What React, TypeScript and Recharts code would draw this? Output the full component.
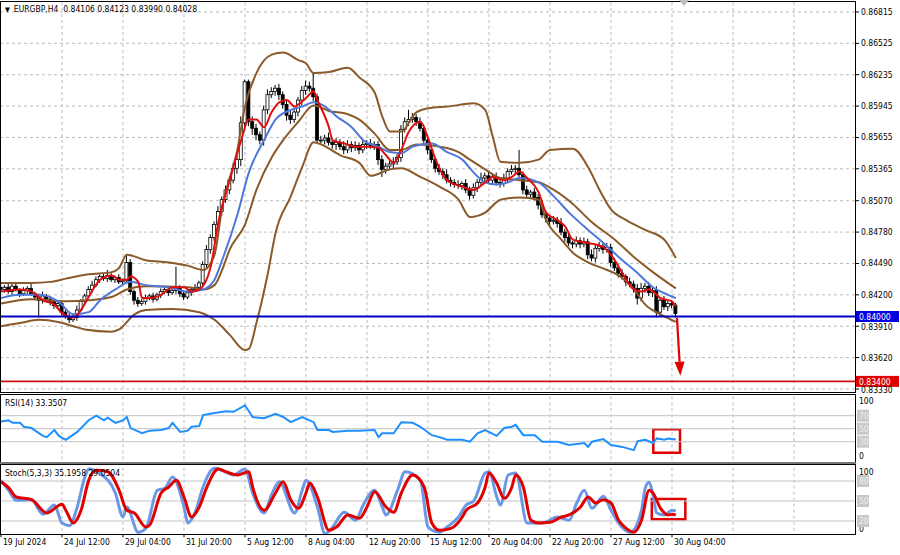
import React from "react";
import {
  Bar,
  CartesianGrid,
  ComposedChart,
  Line,
  ReferenceArea,
  ReferenceLine,
  XAxis,
  YAxis,
} from "recharts";

const FONT = "'DejaVu Sans Condensed', 'Liberation Sans', Arial, sans-serif";

// H4 closes, one per bar, 19 Jul 20:00 .. 30 Aug 08:00
const closes = [
  0.8425, 0.8427, 0.8423, 0.8428, 0.8425, 0.8421, 0.8424, 0.8426, 0.8421, 0.8418, 0.8415, 0.8419, 0.8416, 0.8414, 0.841, 0.8412,
  0.8404, 0.84, 0.8397, 0.8399, 0.8406, 0.8414, 0.8419, 0.8425, 0.8429, 0.8434, 0.8437, 0.8435, 0.8438, 0.8434, 0.8436, 0.8432,
  0.8433, 0.845, 0.8423, 0.8415, 0.8412, 0.8414, 0.8417, 0.8419, 0.8416, 0.842, 0.8423, 0.8425, 0.8422, 0.8424, 0.8426, 0.8421,
  0.8418, 0.8422, 0.8425, 0.8427, 0.8431, 0.8448, 0.8462, 0.8473, 0.8485, 0.8497, 0.8508, 0.8517, 0.8526, 0.8537, 0.8545, 0.8579,
  0.8617, 0.858, 0.8574, 0.8568, 0.8563, 0.8591, 0.8605, 0.8608, 0.8611, 0.8605, 0.8596, 0.8586, 0.8582, 0.8589, 0.86, 0.8609,
  0.8613, 0.8611, 0.8603, 0.8563, 0.8563, 0.8565, 0.8561, 0.8559, 0.8561, 0.8557, 0.8554, 0.8559, 0.8556, 0.8558, 0.8554, 0.8559,
  0.856, 0.8558, 0.8559, 0.8545, 0.8536, 0.8539, 0.8541, 0.8543, 0.8547, 0.8573, 0.858, 0.8582, 0.8584, 0.858, 0.8574, 0.8563,
  0.8554, 0.8545, 0.8537, 0.8534, 0.8531, 0.8526, 0.8524, 0.8522, 0.8521, 0.8523, 0.8517, 0.8512, 0.8519, 0.8524, 0.8528, 0.853,
  0.8526, 0.8529, 0.8524, 0.8523, 0.8528, 0.8534, 0.8536, 0.8537, 0.8531, 0.8517, 0.8513, 0.8515, 0.851, 0.8503, 0.8494, 0.8491,
  0.8488, 0.8489, 0.8486, 0.8478, 0.8473, 0.8468, 0.8467, 0.847, 0.8467, 0.8469, 0.8457, 0.8454, 0.8463, 0.8465, 0.8462, 0.8464,
  0.845, 0.8445, 0.844, 0.8437, 0.8432, 0.843, 0.8426, 0.8417, 0.8426, 0.8428, 0.8422, 0.8424, 0.8404, 0.8415, 0.8409, 0.8412,
  0.84106, 0.84028,
];
const firstOpen = 0.8427;

// wick lengths in pips above / below the body
const wickUp = [
  3, 2, 4, 2, 3, 1, 3, 2, 4, 2, 3, 4, 2, 3, 2, 3,
  3, 2, 3, 3, 4, 2, 2, 3, 4, 3, 2, 3, 5, 3, 2, 3,
  2, 6, 3, 2, 3, 2, 3, 2, 3, 2, 3, 2, 3, 2, 20, 3,
  2, 3, 2, 3, 2, 3, 4, 3, 3, 5, 3, 4, 3, 5, 4, 6,
  2, 2, 5, 4, 3, 4, 5, 4, 3, 4, 3, 4, 5, 4, 3, 4,
  5, 4, 14, 3, 4, 3, 5, 3, 4, 3, 5, 4, 3, 4, 3, 4,
  3, 4, 3, 3, 4, 3, 3, 4, 3, 4, 4, 9, 4, 3, 4, 3,
  3, 4, 2, 4, 3, 5, 3, 3, 4, 2, 4, 3, 4, 3, 5, 3,
  4, 3, 4, 2, 4, 3, 4, 3, 17, 3, 4, 2, 4, 3, 5, 3,
  3, 4, 3, 5, 3, 4, 2, 4, 3, 4, 3, 5, 3, 4, 3, 4,
  3, 4, 3, 4, 2, 4, 3, 4, 5, 3, 4, 3, 4, 3, 4, 3,
  3, 2,
];
const wickDn = [
  2, 3, 2, 3, 2, 3, 2, 3, 2, 3, 16, 3, 2, 4, 3, 2,
  3, 2, 3, 2, 3, 2, 3, 2, 3, 2, 3, 2, 3, 2, 3, 2,
  3, 2, 3, 4, 3, 2, 3, 2, 3, 2, 3, 2, 3, 2, 3, 3,
  3, 2, 3, 2, 3, 4, 3, 4, 3, 3, 4, 3, 4, 3, 5, 6,
  5, 4, 6, 5, 4, 5, 4, 3, 4, 5, 4, 5, 4, 3, 4, 5,
  4, 3, 4, 2, 3, 4, 3, 4, 5, 3, 4, 3, 4, 3, 4, 3,
  4, 3, 4, 5, 7, 4, 3, 4, 3, 4, 3, 4, 3, 4, 3, 4,
  4, 3, 4, 3, 4, 3, 4, 3, 3, 4, 3, 4, 3, 4, 3, 4,
  3, 4, 3, 4, 3, 4, 3, 4, 3, 4, 3, 4, 3, 4, 3, 4,
  4, 3, 4, 3, 4, 3, 4, 3, 4, 3, 4, 3, 4, 3, 4, 3,
  4, 3, 4, 3, 4, 3, 4, 6, 3, 4, 3, 4, 5, 4, 3, 4,
  3, 4,
];

const priceTicks = [0.86815, 0.86525, 0.86235, 0.85945, 0.85655, 0.85365, 0.8507, 0.8478, 0.8449, 0.842, 0.8391, 0.8362, 0.8333];
const gridBars = [16, 32, 48, 64, 80, 96, 112, 128, 144, 160, 176, 192, 208];
const dateTicks = [0, 16, 32, 48, 64, 80, 96, 112, 128, 144, 160, 176];
const dateLabels = [
  "19 Jul 2024", "24 Jul 12:00", "29 Jul 04:00", "31 Jul 20:00", "5 Aug 12:00", "8 Aug 04:00",
  "12 Aug 20:00", "15 Aug 12:00", "20 Aug 04:00", "22 Aug 20:00", "27 Aug 12:00", "30 Aug 04:00",
];

// indicator readings: [bar index, value]
const bbUpper = [
  [0, 0.8431], [8, 0.8431], [13, 0.8432], [17, 0.8435], [23, 0.8439], [29, 0.8441], [31, 0.8445], [33, 0.8457],
  [38, 0.8452], [44, 0.845], [49, 0.8447], [53, 0.8443], [56, 0.8457], [58, 0.8501], [62, 0.8554], [64, 0.8594],
  [67, 0.8625], [71, 0.8642], [74, 0.8644], [78, 0.8637], [80, 0.8634], [82, 0.8625], [86, 0.8626], [91, 0.863],
  [94, 0.8621], [98, 0.8607], [100, 0.8585], [102, 0.8571], [105, 0.8571], [109, 0.8589], [113, 0.8593], [117, 0.8594],
  [124, 0.8597], [127, 0.8591], [129, 0.8566], [131, 0.8543], [136, 0.8542], [141, 0.8545], [144, 0.8554], [150, 0.8555],
  [154, 0.8538], [157, 0.8517], [160, 0.8499], [164, 0.8489], [169, 0.848], [174, 0.8471], [177, 0.8454],
];
const bbMiddle = [
  [0, 0.8412], [8, 0.8416], [17, 0.8414], [23, 0.8415], [29, 0.8418], [33, 0.8425], [38, 0.8428], [49, 0.8427],
  [53, 0.8425], [56, 0.8429], [58, 0.8443], [60, 0.8462], [64, 0.8485], [67, 0.8517], [71, 0.8547], [74, 0.8563],
  [78, 0.858], [82, 0.8595], [86, 0.859], [91, 0.8587], [94, 0.8582], [98, 0.8569], [102, 0.8554], [105, 0.8554],
  [109, 0.8559], [115, 0.8557], [120, 0.8552], [123, 0.8545], [127, 0.8536], [131, 0.8528], [136, 0.8526], [141, 0.8524],
  [145, 0.8517], [150, 0.8504], [155, 0.8487], [161, 0.8471], [166, 0.8455], [171, 0.8441], [177, 0.8426],
];
const bbLower = [
  [0, 0.8391], [5, 0.8394], [10, 0.8397], [15, 0.8395], [19, 0.8391], [22, 0.8388], [29, 0.8386], [31, 0.8388],
  [35, 0.8402], [38, 0.8406], [45, 0.8407], [52, 0.8404], [56, 0.8397], [60, 0.8383], [64, 0.8369], [65, 0.837],
  [67, 0.8394], [70, 0.844], [72, 0.8477], [76, 0.8511], [79, 0.8538], [82, 0.8561], [84, 0.8559], [89, 0.8549],
  [94, 0.8542], [97, 0.853], [102, 0.8536], [105, 0.8537], [110, 0.8529], [115, 0.852], [120, 0.8508], [123, 0.8492],
  [127, 0.8496], [131, 0.8508], [136, 0.851], [141, 0.8508], [143, 0.8489], [147, 0.8471], [150, 0.8459], [154, 0.845],
  [159, 0.8443], [162, 0.8438], [166, 0.8425], [169, 0.8411], [173, 0.8402], [177, 0.8395],
];
const maSlow = [
  [0, 0.8417], [5, 0.842], [10, 0.842], [15, 0.8414], [19, 0.8402], [23, 0.8404], [26, 0.8415], [30, 0.8425],
  [34, 0.8432], [38, 0.8429], [44, 0.8427], [49, 0.8423], [53, 0.8425], [56, 0.8434], [58, 0.8452], [62, 0.8494],
  [65, 0.8533], [69, 0.8563], [72, 0.8582], [76, 0.8591], [79, 0.8594], [82, 0.8598], [85, 0.8594], [88, 0.8585],
  [92, 0.8575], [95, 0.8563], [99, 0.8557], [102, 0.8552], [105, 0.8551], [108, 0.8557], [113, 0.856], [117, 0.8552],
  [121, 0.8545], [124, 0.8533], [127, 0.8524], [130, 0.8522], [133, 0.8524], [136, 0.8528], [141, 0.8524], [145, 0.8511],
  [149, 0.8496], [154, 0.848], [158, 0.8468], [162, 0.8455], [167, 0.844], [171, 0.8427], [175, 0.842], [177, 0.8417],
];
const maFast = [
  [0, 0.8423], [5, 0.8425], [8, 0.8423], [11, 0.8415], [14, 0.8411], [16, 0.8403], [19, 0.8399], [21, 0.8406],
  [23, 0.8418], [26, 0.8434], [29, 0.8438], [31, 0.8434], [33, 0.8434], [34, 0.8437], [36, 0.8432], [37, 0.8417],
  [39, 0.8417], [42, 0.842], [45, 0.8427], [48, 0.8427], [50, 0.8423], [52, 0.8425], [55, 0.8446], [57, 0.8487],
  [60, 0.8526], [63, 0.8563], [65, 0.8582], [67, 0.8582], [69, 0.8575], [71, 0.8589], [73, 0.8598], [75, 0.86],
  [77, 0.8594], [78, 0.8596], [80, 0.8602], [82, 0.8608], [83, 0.86], [86, 0.8575], [87, 0.8563], [90, 0.856],
  [93, 0.8557], [96, 0.8557], [99, 0.8556], [101, 0.8549], [103, 0.8542], [105, 0.8554], [107, 0.8571], [110, 0.858],
  [112, 0.8565], [114, 0.8545], [117, 0.8526], [121, 0.852], [124, 0.8517], [127, 0.8524], [129, 0.8529], [132, 0.8526],
  [134, 0.8529], [136, 0.8534], [138, 0.8528], [141, 0.8515], [143, 0.8496], [146, 0.8489], [148, 0.8483], [150, 0.8471],
  [154, 0.8468], [158, 0.8464], [161, 0.8452], [163, 0.844], [166, 0.8425], [168, 0.8423], [170, 0.8425], [173, 0.8417],
  [176, 0.8414], [177, 0.8409],
];
const rsi = [
  [0, 61], [2, 63], [3, 59], [5, 59], [6, 53], [8, 51], [11, 39], [12, 37], [14, 48], [15, 40], [16, 36], [17, 33],
  [20, 45], [23, 63], [25, 70], [27, 63], [28, 67], [30, 59], [32, 63], [33, 68], [34, 51], [37, 43], [39, 47], [42, 48],
  [44, 51], [45, 59], [47, 45], [49, 47], [50, 53], [52, 54], [53, 71], [56, 74], [59, 77], [61, 76], [64, 86], [66, 68],
  [69, 66], [72, 73], [74, 68], [76, 60], [79, 68], [82, 60], [83, 48], [86, 48], [87, 45], [91, 47], [94, 47], [98, 48],
  [99, 37], [100, 43], [103, 43], [105, 60], [108, 59], [110, 53], [113, 40], [115, 37], [117, 33], [121, 33], [123, 30],
  [125, 43], [127, 48], [130, 39], [132, 51], [134, 53], [135, 56], [137, 40], [140, 40], [142, 30], [146, 30], [149, 25],
  [153, 28], [154, 22], [155, 30], [158, 34], [160, 25], [163, 22], [166, 17], [167, 31], [169, 33], [171, 28], [172, 35],
  [174, 33], [175, 35], [177, 33.35],
];
const stochMain = [
  [0, 81], [2, 66], [4, 51], [8, 52], [11, 30], [14, 44], [16, 17], [18, 13], [20, 41], [22, 86], [23, 98], [26, 91],
  [30, 62], [32, 26], [33, 41], [36, 3], [38, 9], [41, 66], [43, 69], [45, 86], [48, 41], [49, 17], [51, 34], [53, 71],
  [56, 99], [58, 96], [61, 89], [64, 98], [66, 62], [69, 32], [71, 60], [73, 79], [77, 32], [79, 66], [80, 81], [83, 41],
  [85, 1], [87, 11], [90, 33], [93, 21], [95, 44], [98, 66], [100, 41], [101, 29], [104, 66], [106, 94], [110, 81],
  [112, 11], [115, 3], [117, 11], [120, 26], [122, 44], [124, 50], [127, 92], [128, 94], [130, 57], [131, 44], [133, 89],
  [135, 92], [138, 17], [142, 17], [146, 26], [149, 21], [151, 47], [153, 66], [155, 39], [158, 57], [160, 36], [162, 17],
  [165, 3], [168, 36], [169, 70], [170, 78], [171, 60], [172, 32], [174, 29], [176, 36], [177, 35.2],
];
const stochSignal = [
  [0, 79], [2, 70], [4, 56], [8, 52], [12, 32], [16, 45], [17, 36], [19, 17], [21, 36], [23, 81], [25, 96], [28, 94],
  [31, 66], [33, 36], [35, 32], [38, 11], [39, 14], [42, 62], [44, 71], [46, 81], [48, 56], [50, 26], [52, 41], [54, 71],
  [57, 98], [59, 94], [62, 89], [65, 94], [66, 71], [69, 36], [72, 62], [74, 79], [76, 52], [78, 39], [80, 62], [81, 77],
  [83, 56], [86, 6], [88, 11], [91, 29], [94, 24], [96, 41], [98, 64], [101, 41], [103, 33], [105, 62], [108, 89],
  [111, 71], [113, 17], [115, 6], [118, 9], [121, 26], [122, 36], [125, 47], [127, 71], [128, 92], [130, 77], [132, 54],
  [134, 71], [135, 89], [137, 71], [139, 21], [141, 17], [144, 18], [147, 26], [149, 29], [152, 41], [154, 56], [156, 47],
  [158, 52], [160, 47], [162, 21], [164, 9], [166, 3], [168, 21], [170, 66], [171, 62], [173, 39], [175, 29], [176, 30],
  [177, 29],
];

const X_DOMAIN: [number, number] = [-0.26, 224];
const PRICE_DOMAIN: [number, number] = [0.83302, 0.86907];

const pts = (a: number[][]) => a.map(([i, v]) => ({ i, v }));

const candles = closes.map((c, i) => {
  const o = i === 0 ? firstOpen : closes[i - 1];
  const high = Math.max(o, c) + wickUp[i] / 10000;
  const low = Math.min(o, c) - wickDn[i] / 10000;
  return { i, open: o, close: c, range: [low, high] };
});

const Candle = (props: any) => {
  const { x, y, width, height, payload } = props;
  if (!payload) return null;
  const [low, high] = payload.range;
  const top = Math.min(y, y + height);
  const span = Math.abs(height);
  const k = span / (high - low);
  const cx = x + width / 2;
  const yo = top + (high - payload.open) * k;
  const yc = top + (high - payload.close) * k;
  const bull = payload.close >= payload.open;
  return (
    <g>
      <line x1={cx} x2={cx} y1={top} y2={top + span} stroke="#000" strokeWidth={1} />
      <rect
        x={cx - 1.5}
        y={Math.min(yo, yc)}
        width={3}
        height={Math.max(Math.abs(yc - yo), 1)}
        fill={bull ? "#fff" : "#000"}
        stroke="#000"
        strokeWidth={0.8}
      />
    </g>
  );
};

// price labels sitting right under a tag box are nudged down a little, as in the terminal
const PriceTick = (p: any) => {
  const { x, y, payload } = p;
  const v = payload.value as number;
  const shift = v === 0.8333 ? 1.5 : v === 0.8391 ? 0.5 : 0;
  return (
    <text x={x} y={y + shift} dy="0.35em" textAnchor="start" fontSize={8.5} fill="#000" fontFamily={FONT}>
      {v.toFixed(5)}
    </text>
  );
};

const priceTag = (text: string, color: string) => (p: any) => {
  const vb = p.viewBox;
  const x = vb.x + vb.width + 1;
  return (
    <g>
      <rect x={x} y={vb.y - 5.5} width={43} height={11} fill={color} />
      <text x={x + 3} y={vb.y + 3.3} fill="#fff" fontSize={8.5} fontFamily={FONT}>
        {text}
      </text>
    </g>
  );
};

const Arrow = (p: any) => {
  const { x1, y1, x2, y2 } = p;
  const a = Math.atan2(y2 - y1, x2 - x1);
  const bx = x2 - 14 * Math.cos(a);
  const by = y2 - 14 * Math.sin(a);
  const nx = -Math.sin(a) * 5;
  const ny = Math.cos(a) * 5;
  return (
    <g>
      <line x1={x1} y1={y1} x2={bx} y2={by} stroke="#e00000" strokeWidth={2.2} />
      <polygon points={`${x2},${y2} ${bx + nx},${by + ny} ${bx - nx},${by - ny}`} fill="#e00000" />
    </g>
  );
};

const levelTick = (max: number, topShift: number, bottomShift: number) => (p: any) => {
  const { x, y, payload } = p;
  const v = payload.value;
  if (v === max || v === 0) {
    return (
      <text x={x} y={y + (v === 0 ? bottomShift : topShift)} dy="0.35em" fontSize={8.5} fill="#000" fontFamily={FONT}>
        {v}
      </text>
    );
  }
  return (
    <g>
      <rect x={x - 2} y={y - 6} width={12} height={12} fill="#c8c8c8" />
      <text x={x} y={y} dy="0.35em" fontSize={8.5} fill="#eeeeee" fontFamily={FONT}>
        {v}
      </text>
    </g>
  );
};

const DateTick = (p: any) => {
  const { x, y, payload } = p;
  const idx = dateTicks.indexOf(payload.value);
  return (
    <text x={x + 2} y={y + 6} fontSize={8.5} fill="#000" fontFamily={FONT}>
      {dateLabels[idx]}
    </text>
  );
};

const frame = (top: number, height: number): React.CSSProperties => ({
  position: "absolute",
  left: 0,
  top,
  width: 856,
  height,
  border: "1px solid #000",
  boxSizing: "border-box",
  pointerEvents: "none",
});

const labelStyle: React.CSSProperties = {
  position: "absolute",
  fontSize: 8.5,
  fontFamily: FONT,
  color: "#000",
  whiteSpace: "nowrap",
};

const grid = "#bcbcbc";
const brown = "#8b5a2b";

export default function App() {
  return (
    <div style={{ position: "absolute", left: 0, top: 0, width: 900, height: 555, background: "#fff", overflow: "hidden" }}>
      <div style={{ position: "absolute", left: 0, top: 0 }}>
        <ComposedChart width={900} height={394} data={candles} margin={{ top: 2, right: 0, bottom: 2, left: 0 }}>
          <CartesianGrid stroke={grid} strokeDasharray="3 3" horizontalValues={priceTicks} verticalValues={gridBars} />
          <XAxis type="number" dataKey="i" domain={X_DOMAIN} allowDataOverflow hide />
          <YAxis
            orientation="right"
            type="number"
            width={45}
            domain={PRICE_DOMAIN}
            allowDataOverflow
            ticks={priceTicks}
            interval={0}
            axisLine={false}
            tickSize={4}
            tickMargin={2}
            tickLine={{ stroke: "#000" }}
            tick={PriceTick}
          />
          <Bar dataKey="range" barSize={3} shape={Candle} isAnimationActive={false} />
          <Line data={pts(bbUpper)} dataKey="v" type="monotone" stroke={brown} strokeWidth={2} dot={false} isAnimationActive={false} />
          <Line data={pts(bbMiddle)} dataKey="v" type="monotone" stroke={brown} strokeWidth={2} dot={false} isAnimationActive={false} />
          <Line data={pts(bbLower)} dataKey="v" type="monotone" stroke={brown} strokeWidth={2} dot={false} isAnimationActive={false} />
          <Line data={pts(maSlow)} dataKey="v" type="monotone" stroke="#4f78dc" strokeWidth={2} dot={false} isAnimationActive={false} />
          <Line data={pts(maFast)} dataKey="v" type="monotone" stroke="#e01010" strokeWidth={2} dot={false} isAnimationActive={false} />
          <ReferenceLine y={0.84} stroke="#0000c0" strokeWidth={2} label={priceTag("0.84000", "#0000e0")} />
          <ReferenceLine y={0.834} stroke="#d01010" strokeWidth={1.6} label={priceTag("0.83400", "#e00000")} />
          <ReferenceLine
            segment={[
              { x: 177.3, y: 0.83986 },
              { x: 178.2, y: 0.83452 },
            ]}
            shape={Arrow}
          />
        </ComposedChart>
      </div>

      <div style={{ position: "absolute", left: 0, top: 394 }}>
        <ComposedChart width={900} height={69} margin={{ top: 2.2, right: 0, bottom: 1.8, left: 0 }}>
          <CartesianGrid stroke={grid} strokeDasharray="3 3" horizontal={false} verticalValues={gridBars} />
          <XAxis type="number" dataKey="i" domain={X_DOMAIN} allowDataOverflow hide />
          <YAxis
            orientation="right"
            type="number"
            width={45}
            domain={[0, 100]}
            ticks={[0, 30, 50, 70, 100]}
            interval={0}
            axisLine={false}
            tickLine={false}
            tickSize={3}
            tickMargin={1}
            tick={levelTick(100, 4.5, -5)}
          />
          <ReferenceLine y={70} stroke="#c4c4c4" strokeWidth={1} />
          <ReferenceLine y={50} stroke="#c4c4c4" strokeWidth={1} />
          <ReferenceLine y={30} stroke="#c4c4c4" strokeWidth={1} />
          <Line data={pts(rsi)} dataKey="v" type="linear" stroke="#1e8fff" strokeWidth={2} dot={false} isAnimationActive={false} />
          <ReferenceArea x1={171.1} x2={178.1} y1={13} y2={49} fill="none" stroke="#e00000" strokeWidth={2.5} fillOpacity={0} />
        </ComposedChart>
      </div>

      <div style={{ position: "absolute", left: 0, top: 464 }}>
        <ComposedChart width={900} height={91} margin={{ top: 3.7, right: 0, bottom: 0, left: 0 }}>
          <CartesianGrid stroke={grid} strokeDasharray="3 3" horizontal={false} verticalValues={gridBars} />
          <XAxis
            type="number"
            dataKey="i"
            domain={X_DOMAIN}
            allowDataOverflow
            ticks={dateTicks}
            interval={0}
            height={20.7}
            axisLine={false}
            tickSize={3}
            tickMargin={2}
            tickLine={{ stroke: "#000" }}
            tick={DateTick}
          />
          <YAxis
            orientation="right"
            type="number"
            width={45}
            domain={[0, 100]}
            ticks={[0, 20, 50, 80, 100]}
            interval={0}
            axisLine={false}
            tickLine={false}
            tickSize={3}
            tickMargin={1}
            tick={levelTick(100, 4, -5)}
          />
          <ReferenceLine y={80} stroke="#c4c4c4" strokeWidth={1} />
          <ReferenceLine y={50} stroke="#c4c4c4" strokeWidth={1} />
          <ReferenceLine y={20} stroke="#c4c4c4" strokeWidth={1} />
          <Line data={pts(stochMain)} dataKey="v" type="monotone" stroke="#6a98e6" strokeWidth={3} dot={false} isAnimationActive={false} />
          <Line data={pts(stochSignal)} dataKey="v" type="monotone" stroke="#e00000" strokeWidth={3} dot={false} isAnimationActive={false} />
          <ReferenceArea x1={170.7} x2={179.5} y1={22.5} y2={53} fill="none" stroke="#e00000" strokeWidth={2.5} fillOpacity={0} />
        </ComposedChart>
      </div>

      <div style={frame(1, 392)} />
      <div style={frame(394, 69)} />
      <div style={{ position: "absolute", left: 0, top: 462, width: 856, height: 2, background: "#777" }} />
      <div style={frame(464, 71)} />

      <div style={{ ...labelStyle, left: 5, top: 4 }}>
        <span style={{ fontSize: 7, marginRight: 4 }}>▼</span>
        EURGBP,H4&nbsp; 0.84106 0.84123 0.83990 0.84028
      </div>
      <div style={{ ...labelStyle, left: 5, top: 398 }}>RSI(14) 33.3507</div>
      <div style={{ ...labelStyle, left: 5, top: 468 }}>Stoch(5,3,3) 35.1958 29.0504</div>
      <div
        style={{
          position: "absolute",
          left: 679,
          top: 0,
          width: 0,
          height: 0,
          borderLeft: "5px solid transparent",
          borderRight: "5px solid transparent",
          borderTop: "6px solid #bdbdbd",
        }}
      />
    </div>
  );
}
